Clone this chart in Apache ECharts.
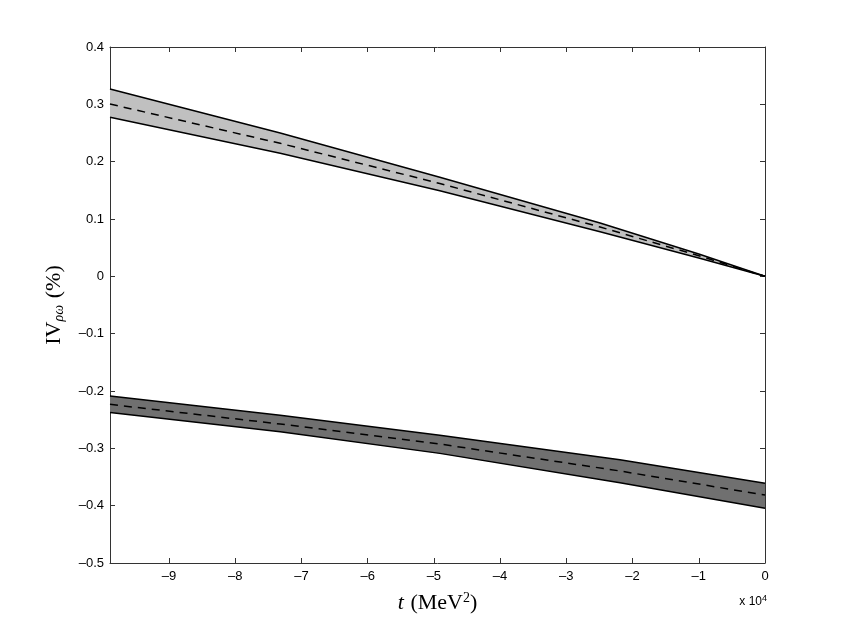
<!DOCTYPE html>
<html>
<head>
<meta charset="utf-8">
<script src="https://cdn.jsdelivr.net/npm/echarts@6/dist/echarts.min.js"></script>
<style>html,body{margin:0;padding:0;background:#fff}#c{width:845px;height:635px}</style>
</head>
<body>
<div id="c"></div>
<script>
// x values in units of 10^4 MeV^2
const tUpper = [-9.89, -7.32, -4.91, -2.49, -1.0, 0];
const upperHi = [0.3267, 0.2500, 0.1727, 0.0930, 0.039, 0];
const upperLo = [0.2773, 0.2145, 0.1493, 0.0778, 0.032, 0];
const upperMid = [0.3005, 0.2320, 0.1620, 0.0860, 0.036, 0];

const tLower = [-9.89, -7.32, -4.91, -2.19, 0];
const lowerHi = [-0.2088, -0.2425, -0.2770, -0.3200, -0.3610];
const lowerLo = [-0.2373, -0.2710, -0.3088, -0.3600, -0.4047];
const lowerMid = [-0.2233, -0.2576, -0.2925, -0.3395, -0.3815];

const xMin = -9.89, xMax = 0;
const yMin = -0.5, yMax = 0.4, yStep = 0.1;

const pairs = (xs, ys) => xs.map((x, i) => [x, ys[i]]);
const dash = s => s.replace('-', '\u2013');

const lineBlack = { color: '#000', width: 1.5 };
const axisColor = '#333';
const labelFont = { fontFamily: 'Liberation Sans, Arial, sans-serif', fontSize: 13, color: '#000' };

function bandFill(xs, hi, lo, fill) {
  return {
    type: 'custom', data: [0], z: 2, silent: true,
    renderItem: (params, api) => {
      const pts = xs.map((x, i) => api.coord([x, hi[i]]))
        .concat(xs.map((x, i) => api.coord([x, lo[i]])).reverse());
      return { type: 'polygon', shape: { points: pts }, style: { fill: fill, stroke: 'none' } };
    }
  };
}
function edge(xs, ys, dashed) {
  return { type: 'line', data: pairs(xs, ys), symbol: 'none', z: 4,
    lineStyle: dashed ? { color: '#000', width: 1.5, type: [8, 6] } : lineBlack };
}

const chart = echarts.init(document.getElementById('c'));
const baseX = {
  type: 'value', min: xMin, max: xMax, splitNumber: 10,
  axisLine: { show: true, onZero: false, lineStyle: { color: axisColor, width: 1 } },
  axisTick: { show: true, inside: true, length: 5, lineStyle: { color: axisColor } },
  splitLine: { show: false }
};
const baseY = {
  type: 'value', min: yMin, max: yMax, interval: yStep,
  axisLine: { show: true, onZero: false, lineStyle: { color: axisColor, width: 1 } },
  axisTick: { show: true, inside: true, length: 5, lineStyle: { color: axisColor } },
  splitLine: { show: false }
};
chart.setOption({
  animation: false,
  backgroundColor: '#fff',
  grid: { left: 110, right: 80, top: 47, bottom: 72, containLabel: false },
  xAxis: [
    Object.assign({}, baseX, {
      position: 'bottom',
      axisLabel: Object.assign({ margin: 7, showMinLabel: false,
        formatter: v => v === 0 ? '0' : dash(String(Math.round(v))) }, labelFont),
      name: '{i|t}  {r|(MeV}{sup|2}{r|)}',
      nameLocation: 'middle', nameGap: 28,
      nameTextStyle: {
        rich: {
          i: { fontFamily: 'Liberation Serif, serif', fontStyle: 'italic', fontSize: 22, color: '#000' },
          r: { fontFamily: 'Liberation Serif, serif', fontSize: 22, color: '#000' },
          sup: { fontFamily: 'Liberation Serif, serif', fontSize: 14, color: '#000', verticalAlign: 'top', padding: [0, 0, 10, 0] }
        }
      }
    }),
    Object.assign({}, baseX, { position: 'top', axisLabel: { show: false } })
  ],
  yAxis: [
    Object.assign({}, baseY, {
      position: 'left',
      axisLabel: Object.assign({ margin: 6,
        formatter: v => Math.abs(v) < 1e-9 ? '0' : dash(v.toFixed(1)) }, labelFont),
      name: '{r|IV}{sub|ρω}  {r|(%)}',
      nameLocation: 'middle', nameGap: 44, nameRotate: 90,
      nameTextStyle: {
        rich: {
          r: { fontFamily: 'Liberation Serif, serif', fontSize: 22, color: '#000' },
          sub: { fontFamily: 'Liberation Serif, serif', fontStyle: 'italic', fontSize: 14, color: '#000', padding: [10, 0, 0, 0] }
        }
      }
    }),
    Object.assign({}, baseY, { position: 'right', axisLabel: { show: false } })
  ],
  graphic: [{
    type: 'text', right: 78, top: 594,
    style: {
      text: 'x 10{sup|4}',
      font: '12px Liberation Sans, Arial, sans-serif', fill: '#000',
      rich: { sup: { fontSize: 9, fontFamily: 'Liberation Sans, Arial, sans-serif', fill: '#000', padding: [0, 0, 7, 0] } }
    }
  }],
  series: [
    bandFill(tUpper, upperHi, upperLo, '#c0c0c0'),
    edge(tUpper, upperHi), edge(tUpper, upperLo), edge(tUpper, upperMid, true),
    bandFill(tLower, lowerHi, lowerLo, '#707070'),
    edge(tLower, lowerHi), edge(tLower, lowerLo), edge(tLower, lowerMid, true)
  ]
});
</script>
</body>
</html>
